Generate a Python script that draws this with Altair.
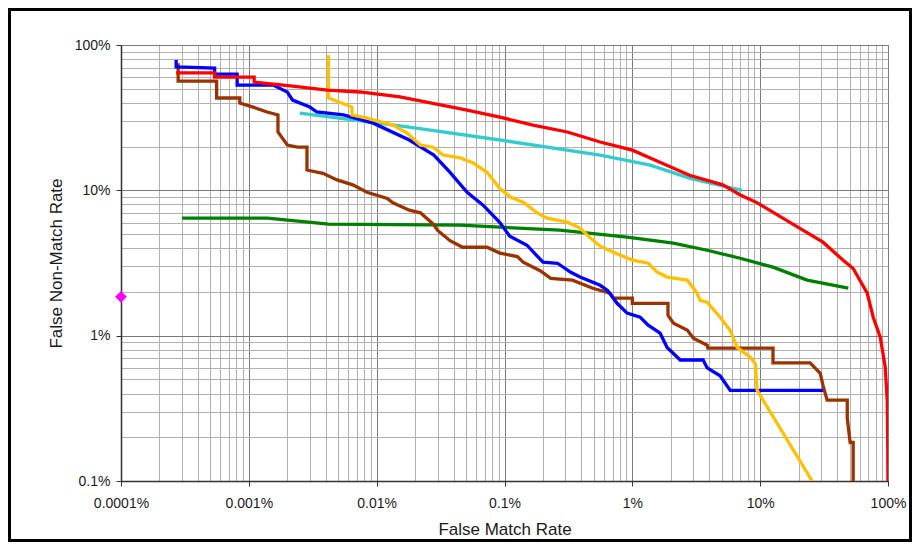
import altair as alt
import pandas as pd

# ---- data (False Match Rate %, False Non-Match Rate %) ----
red_fmr = [0.00027, 0.00054, 0.00054, 0.0011, 0.0011, 0.0022, 0.0041, 0.0074, 0.0152, 0.051,
           0.092, 0.167, 0.31, 0.56, 1.0, 1.38, 2.8, 5.1, 7.0, 9.5,
           17.2, 31, 44.6, 53.4, 68.8, 76.6, 86.9, 95.1, 98.6, 99.6, 99.9]
red_fnmr = [64.2, 64.2, 60.2, 60.2, 55.6, 52.2, 49.0, 47.5, 43.9, 35.7,
            31.9, 28.1, 25.2, 21.5, 18.9, 16.7, 12.7, 10.9, 9.3, 8.2,
            6.0, 4.4, 3.3, 2.9, 1.96, 1.34, 0.98, 0.61, 0.36, 0.17, 0.1]

blue_fmr = [0.00027, 0.00027, 0.00054, 0.00054, 0.00081, 0.00081, 0.00155, 0.0020, 0.0022, 0.0030,
            0.0034, 0.0055, 0.0094, 0.018, 0.028, 0.0375, 0.051, 0.068, 0.092, 0.11,
            0.15, 0.20, 0.26, 0.33, 0.39, 0.56, 0.64, 0.76, 0.91, 1.15,
            1.33, 1.65, 1.87, 2.37, 3.58, 3.85, 4.86, 5.83, 31]
blue_fnmr = [79, 70.6, 69.4, 63.1, 63.1, 53, 53, 47.5, 41.8, 37.4,
             34.6, 33, 29, 22.2, 17.5, 13.3, 9.7, 7.9, 6.0, 4.84,
             4.19, 3.2, 3.15, 2.73, 2.53, 2.22, 2.05, 1.67, 1.43, 1.34,
             1.18, 1.04, 0.83, 0.68, 0.68, 0.6, 0.53, 0.42, 0.42]

brown_fmr = [0.00028, 0.00028, 0.00056, 0.00056, 0.00085, 0.00085, 0.00108, 0.00139, 0.00169, 0.00169,
             0.0020, 0.0024, 0.00285, 0.00285, 0.0038, 0.0049, 0.0065, 0.0084, 0.0121, 0.0134,
             0.018, 0.022, 0.028, 0.030, 0.0375, 0.047, 0.073, 0.092, 0.126, 0.14,
             0.19, 0.23, 0.34, 0.49, 0.67, 0.71, 1.0, 1.0, 1.9, 1.9,
             2.1, 2.7, 3.0, 3.85, 3.9, 12.6, 12.6, 24.6, 29.5, 31,
             33.4, 48, 48, 50.6, 53.4, 53.4]
brown_fnmr = [75, 56.5, 56.5, 43.2, 43.2, 39.9, 37.4, 34.6, 33, 25.2,
              20.5, 19.8, 19.8, 13.8, 13.1, 11.8, 10.9, 9.7, 8.8, 8.2,
              7.3, 7.0, 5.8, 5.3, 4.5, 4.06, 4.06, 3.7, 3.5, 3.2,
              2.8, 2.48, 2.41, 2.12, 1.96, 1.81, 1.81, 1.67, 1.67, 1.38,
              1.22, 1.09, 0.96, 0.86, 0.82, 0.82, 0.65, 0.65, 0.55, 0.455,
              0.36, 0.36, 0.27, 0.184, 0.184, 0.1]

yellow_fmr = [0.0042, 0.0042, 0.0064, 0.0064, 0.0084, 0.0134, 0.0173, 0.0219, 0.0276, 0.033,
              0.045, 0.057, 0.073, 0.092, 0.111, 0.14, 0.18, 0.215, 0.31, 0.39,
              0.47, 0.56, 0.71, 1.0, 1.33, 1.56, 1.87, 2.69, 3.21, 3.39,
              3.85, 4.86, 5.82, 6.61, 8.35, 9.14, 9.48, 25.5]
yellow_fnmr = [85, 43.2, 37.4, 33.0, 31.4, 28.1, 24.8, 20.5, 19.8, 17.5,
               16.7, 15.4, 13.3, 10.3, 9.0, 8.3, 7.0, 6.44, 6.04, 5.5,
               4.69, 4.13, 3.75, 3.31, 3.15, 2.74, 2.53, 2.41, 1.96, 1.75,
               1.70, 1.34, 1.09, 0.83, 0.71, 0.645, 0.42, 0.1]

cyan_fmr = [0.0025, 0.018, 0.092, 0.56, 1.38, 2.83, 7.2]
cyan_fnmr = [34.0, 27.2, 22.2, 17.5, 14.9, 12.1, 10.0]

green_fmr = [0.0003, 0.0014, 0.0042, 0.045, 0.27, 0.91, 2.09, 3.85, 6.97, 12.6, 23.3, 48.9]
green_fnmr = [6.44, 6.44, 5.85, 5.76, 5.32, 4.76, 4.33, 3.87, 3.41, 2.96, 2.41, 2.12]

point_fmr = [0.0001]
point_fnmr = [1.85]

x_major = [0.0001, 0.001, 0.01, 0.1, 1, 10, 100]
y_major = [0.1, 1, 10, 100]

# ---- tick / grid values (majors + minors) ----
def log_ticks(majors):
    vals = []
    for m in majors[:-1]:
        for k in range(1, 10):
            vals.append(round(k * m, 10))
    vals.append(majors[-1])
    return vals

x_ticks = log_ticks(x_major)
y_ticks = log_ticks(y_major)

FONT = "Liberation Sans"


def axis(values, majors, title, orient):
    maj = "[" + ",".join(repr(v) for v in majors) + "]"
    test = f"indexof({maj}, datum.value) >= 0"
    kw = dict(
        values=values,
        title=title,
        labelExpr=f"{test} ? datum.value + '%' : ''",
        labelOverlap=False,
        labelFlush=False,
        labelFont=FONT,
        labelFontSize=14,
        labelColor="#1a1a1a",
        titleFont=FONT,
        titleFontSize=17,
        titleFontWeight="normal",
        titleColor="#1a1a1a",
        grid=True,
        gridColor={"condition": {"test": test, "value": "#7a7a7a"}, "value": "#b0b0b0"},
        gridWidth=1,
        domainColor="#333333",
        domainWidth=1.5,
        tickColor="#333333",
        tickSize=5,
        tickOpacity={"condition": {"test": test, "value": 1}, "value": 0},
    )
    if orient == "bottom":
        kw.update(labelPadding=10, titlePadding=11)
    else:
        kw.update(labelPadding=6, titlePadding=9)
    return alt.Axis(**kw)


x_scale = alt.Scale(type="log", domain=[0.0001, 100], nice=False)
y_scale = alt.Scale(type="log", domain=[0.1, 100], nice=False)
x_axis = axis(x_ticks, x_major, "False Match Rate", "bottom")
y_axis = axis(y_ticks, y_major, "False Non-Match Rate", "left")


def curve(xs, ys, color, width=3.3):
    df = pd.DataFrame({"fmr": xs, "fnmr": ys, "i": list(range(len(xs)))})
    return alt.Chart(df).mark_line(color=color, strokeWidth=width, clip=True).encode(
        x=alt.X("fmr:Q", scale=x_scale, axis=x_axis),
        y=alt.Y("fnmr:Q", scale=y_scale, axis=y_axis),
        order=alt.Order("i:Q"),
    )


frame = alt.Chart(alt.InlineData(values=[{"a": 0}])).mark_rect(
    fill="white", fillOpacity=0, stroke="black", strokeWidth=3
).encode(
    x=alt.value(-111.5), x2=alt.value(789.5), y=alt.value(-35.5), y2=alt.value(495.5)
)

diamond = alt.Chart(pd.DataFrame({"fmr": point_fmr, "fnmr": point_fnmr})).mark_point(
    shape="diamond", filled=True, color="#FF00FF", size=140, opacity=1, clip=False
).encode(
    x=alt.X("fmr:Q", scale=x_scale, axis=x_axis),
    y=alt.Y("fnmr:Q", scale=y_scale, axis=y_axis),
)

chart = alt.layer(
    frame,
    curve(green_fmr, green_fnmr, "#008000"),
    curve(cyan_fmr, cyan_fnmr, "#33CCCC"),
    curve(brown_fmr, brown_fnmr, "#993300"),
    curve(blue_fmr, blue_fnmr, "#0000FF"),
    curve(yellow_fmr, yellow_fnmr, "#FFC000"),
    curve(red_fmr, red_fnmr, "#FF0000"),
    diamond,
).properties(
    width=767,
    height=436,
    autosize=alt.AutoSizeParams(type="none"),
    padding={"left": 113, "top": 37, "right": 24, "bottom": 61},
    background="white",
).configure_view(stroke="#8a8a8a", strokeWidth=1)

chart.save("out.html", embed_options={"renderer": "svg", "actions": False})
